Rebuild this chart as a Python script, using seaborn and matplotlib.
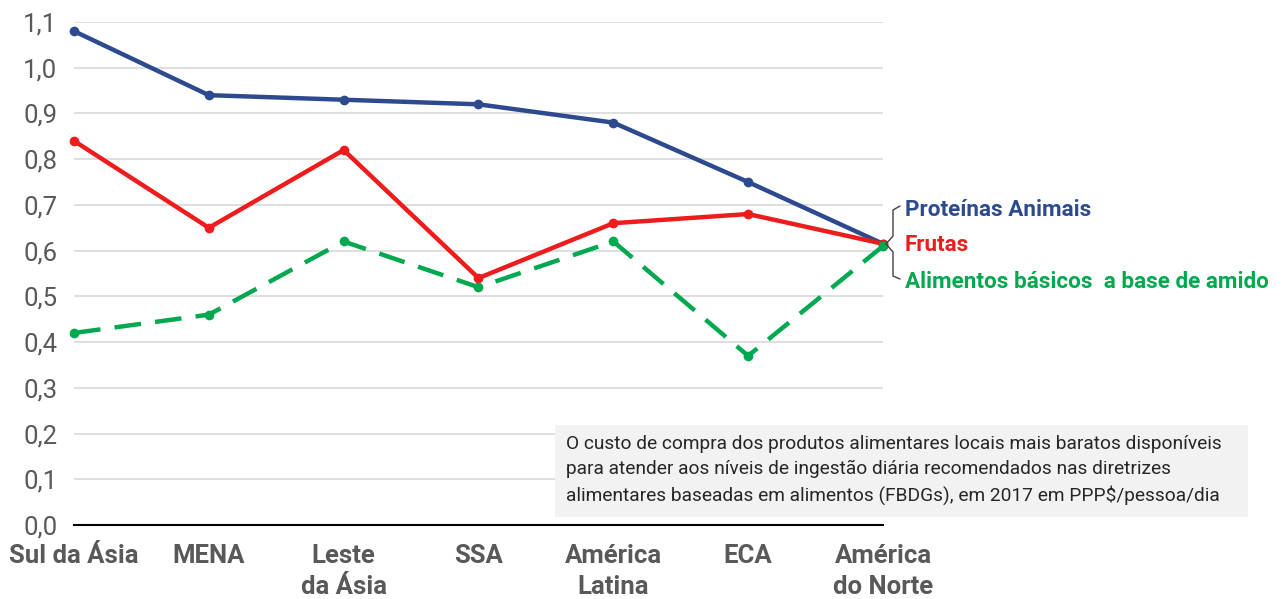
import matplotlib
matplotlib.use("Agg")
import matplotlib.pyplot as plt
from matplotlib.patches import Rectangle
from matplotlib.lines import Line2D
import seaborn as sns
import pandas as pd

regions = ["Sul da Ásia", "MENA", "Leste\nda Ásia", "SSA", "América\nLatina", "ECA", "América\ndo Norte"]
proteinas = [1.08, 0.94, 0.93, 0.92, 0.88, 0.75, 0.615]
frutas = [0.84, 0.65, 0.82, 0.54, 0.66, 0.68, 0.615]
amido = [0.42, 0.46, 0.62, 0.52, 0.62, 0.37, 0.61]
series_names = ["Proteínas Animais", "Frutas", "Alimentos básicos  a base de amido"]
yticks = [0.0, 0.1, 0.2, 0.3, 0.4, 0.5, 0.6, 0.7, 0.8, 0.9, 1.0, 1.1]
note = ("O custo de compra dos produtos alimentares locais mais baratos disponíveis\n"
        "para atender aos níveis de ingestão diária recomendados nas diretrizes\n"
        "alimentares baseadas em alimentos (FBDGs), em 2017 em PPP$/pessoa/dia")

colors = ["#2E4A8E", "#EE1C1C", "#00A950"]
gray = "#595959"

sns.set_style("white")
plt.rcParams["font.family"] = ["Roboto", "DejaVu Sans"]

W, H = 1288, 599
fig = plt.figure(figsize=(W / 100, H / 100), dpi=100)
ax = fig.add_axes([74 / W, 1 - 525 / H, (883 - 74) / W, (525 - 22) / H])

pos = list(range(len(regions)))
values = [proteinas, frutas, amido]
for name, vals, col in zip(series_names, values, colors):
    df = pd.DataFrame({"x": pos, "y": vals})
    dashed = name.startswith("Alimentos")
    sns.lineplot(data=df, x="x", y="y", ax=ax, color=col, linewidth=3.2,
                 marker="o", markersize=7, markeredgewidth=0, sort=False,
                 clip_on=False, zorder=3)
    if dashed:
        ax.lines[-1].set_dashes((6, 3.2))

ax.set_xlim(0, len(regions) - 1)
ax.set_ylim(0, 1.1)
ax.set_yticks(yticks)
ax.set_yticklabels([f"{v:.1f}".replace(".", ",") for v in yticks],
                   fontsize=18.5, color=gray)
ax.set_xticks(pos)
ax.set_xticklabels(regions, fontsize=18.5, fontweight="bold", color=gray,
                   linespacing=1.35, va="top")
ax.tick_params(axis="y", length=0, pad=12)
ax.tick_params(axis="x", length=0, pad=14)
ax.set_xlabel("")
ax.set_ylabel("")
ax.grid(axis="y", color="#D9D9D9", linewidth=1.2)
ax.set_axisbelow(True)
for s in ["top", "right", "left"]:
    ax.spines[s].set_visible(False)
ax.spines["bottom"].set_color("#000000")
ax.spines["bottom"].set_linewidth(1.5)
ax.spines["bottom"].set_zorder(2)


def fx(px):
    return px / W


def fy(py):
    return 1 - py / H


# bracket joining the series labels
bx = [900, 893, 893, 886, 893, 893, 900]
by = [206, 210, 236, 244, 252, 276, 279]
fig.add_artist(Line2D([fx(p) for p in bx], [fy(p) for p in by],
                      color="#404040", linewidth=1.0))
label_y = [210, 245, 282]
for name, col, py in zip(series_names, colors, label_y):
    fig.text(fx(905), fy(py), name, color=col, fontsize=16.2, fontweight="bold",
             va="center", ha="left")

# note box
fig.add_artist(Rectangle((fx(555), fy(517)), fx(1248) - fx(555), fy(425) - fy(517),
                         facecolor="#F2F2F2", edgecolor="none", zorder=1))
fig.text(fx(566), fy(470), note, fontsize=13.8, color="#262626",
         va="center", ha="left", linespacing=1.45, zorder=2)

fig.savefig("out.png", dpi=100)
